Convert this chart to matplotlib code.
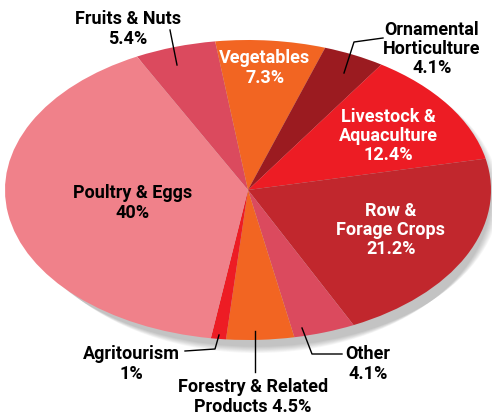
import numpy as np
import matplotlib
matplotlib.use('Agg')
import matplotlib.pyplot as plt
from matplotlib.patches import Ellipse

# slices in clockwise order, starting at the Fruits & Nuts / Poultry boundary
categories = ['Fruits & Nuts', 'Vegetables', 'Ornamental Horticulture',
              'Livestock & Aquaculture', 'Row & Forage Crops', 'Other',
              'Forestry & Related Products', 'Agritourism', 'Poultry & Eggs']
shares = [5.4, 7.3, 4.1, 12.4, 21.2, 4.1, 4.5, 1.0, 40.0]
colors = ['#DB4A5E', '#F26522', '#9B1B20', '#ED1C24', '#C1272D',
          '#DB4A5E', '#F26522', '#ED1C24', '#F0818A']
label_text = ['Fruits & Nuts\n5.4%', 'Vegetables\n7.3%', 'Ornamental\nHorticulture\n4.1%',
              'Livestock &\nAquaculture\n12.4%', 'Row &\nForage Crops\n21.2%', 'Other\n4.1%',
              'Forestry & Related\nProducts 4.5%', 'Agritourism\n1%', 'Poultry & Eggs\n40%']

plt.rcParams['font.family'] = ['Roboto', 'DejaVu Sans']

W, H = 492, 416
fig = plt.figure(figsize=(W / 100, H / 100), dpi=100)
ax = fig.add_axes([0, 0, 1, 1])

# ellipse: centre (248,190) px, rx 243, ry 150
cx, cy, rx, ry = 248, 190, 243, 150
ax.axis('off')

# soft shadow, bottom right
for i in range(8):
    ax.add_patch(Ellipse((0.035, -0.045), 2 - 0.01 * i, 2 + 0.012 * i,
                         color='black', alpha=0.03, lw=0, zorder=0))

ax.pie(shares, colors=colors, startangle=117.2, counterclock=False,
       radius=1, wedgeprops=dict(linewidth=0))
ax.set_aspect('auto')
ax.set_xlim((0 - cx) / rx, (W - cx) / rx)
ax.set_ylim((cy - H) / ry, cy / ry)


def px(x, y):
    return ((x - cx) / rx, (cy - y) / ry)


# label positions in pixels (centre of block), text colour
label_pos = [(128, 29, 'black'), (265, 68, 'white'), (432, 49, 'black'),
             (388, 136, 'white'), (391, 230, 'white'), (368, 364, 'black'),
             (253, 397, 'black'), (131, 364, 'black'), (133, 203, 'black')]
for txt, (x, y, c) in zip(label_text, label_pos):
    ax.text(*px(x, y), txt, ha='center', va='center', color=c, fontsize=13,
            fontweight='bold', linespacing=1.1, zorder=5)

# leader lines
leaders = [[(170, 30), (177, 65)],
           [(383, 38), (354, 42), (344, 73)],
           [(185, 351), (215, 349), (219, 335)],
           [(255, 331), (255, 372)],
           [(302, 328), (312, 354), (342, 354)]]
for pts in leaders:
    xs, ys = zip(*[px(*p) for p in pts])
    ax.plot(xs, ys, color='black', lw=1, zorder=4)

fig.savefig('out.png', dpi=100)
